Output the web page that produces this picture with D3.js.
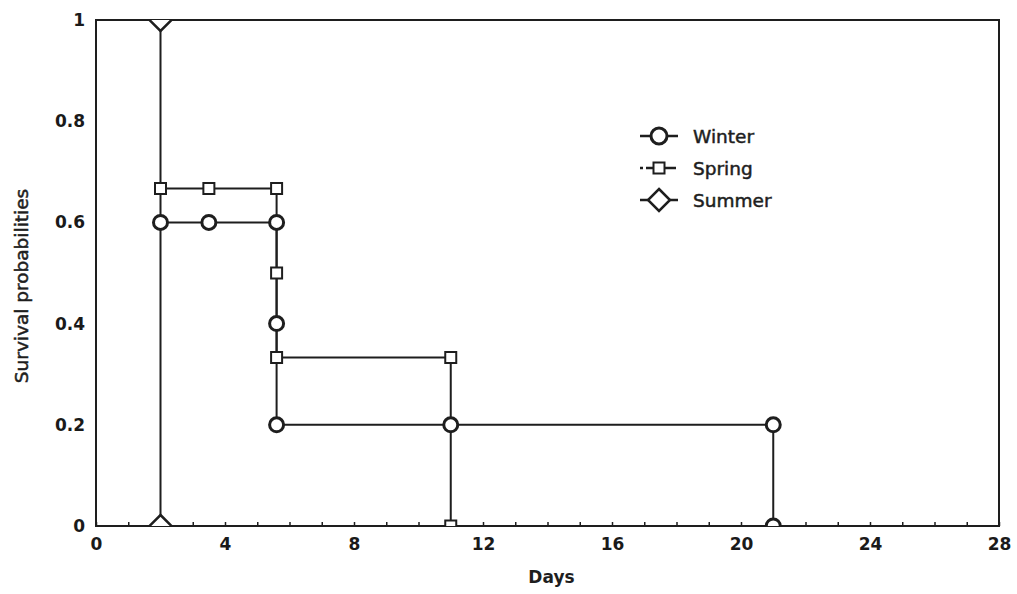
<!DOCTYPE html>
<html>
<head>
<meta charset="utf-8">
<script src="https://cdn.jsdelivr.net/npm/d3@7"></script>
<style>
  body { margin: 0; background: #fff; }
  .tick text { font-family: "DejaVu Sans", sans-serif; font-weight: bold; font-size: 17px; fill: #1a1a1a; }
</style>
</head>
<body>
<div id="chart"></div>
<script>
// Data
// ==============================
var xTicks = [0, 4, 8, 12, 16, 20, 24, 28];
var yTicks = [0, 0.2, 0.4, 0.6, 0.8, 1];

var winterDays = [2, 3.5, 5.6, 5.6, 5.6, 11, 21, 21];
var winterSurv = [0.6, 0.6, 0.6, 0.4, 0.2, 0.2, 0.2, 0];

var springDays = [2, 3.5, 5.6, 5.6, 5.6, 11, 11];
var springSurv = [0.667, 0.667, 0.667, 0.5, 0.333, 0.333, 0];

var summerDays = [2, 2];
var summerSurv = [1, 0];

var seriesNames = ["Winter", "Spring", "Summer"];
var seriesShapes = ["circle", "square", "diamond"];

// Chart area
// ==============================
var svgWidth = 1017;
var svgHeight = 594;
var margin = { top: 20, right: 18, bottom: 68, left: 96 };
var width = svgWidth - margin.left - margin.right;
var height = svgHeight - margin.top - margin.bottom;
var ink = "#1e1e1e";

var svg = d3.select("#chart")
  .append("svg")
  .attr("width", svgWidth)
  .attr("height", svgHeight);

var chartGroup = svg.append("g")
  .attr("transform", `translate(${margin.left}, ${margin.top})`);

svg.append("defs").append("clipPath")
  .attr("id", "plotClip")
  .append("rect")
  .attr("x", 0).attr("y", 0)
  .attr("width", width).attr("height", height);

// Scales and axes
// ==============================
var xScale = d3.scaleLinear().domain([0, 28]).range([0, width]);
var yScale = d3.scaleLinear().domain([0, 1]).range([height, 0]);

var xAxis = d3.axisBottom(xScale)
  .tickValues(d3.range(0, 29, 1))
  .tickSize(-4)
  .tickPadding(12)
  .tickFormat(d => xTicks.indexOf(d) >= 0 ? d : "");

var yAxis = d3.axisLeft(yScale)
  .tickValues(yTicks)
  .tickSize(0)
  .tickPadding(11)
  .tickFormat(d => String(+d.toFixed(1)));

var xAxisGroup = chartGroup.append("g")
  .attr("transform", `translate(0, ${height})`)
  .call(xAxis);
xAxisGroup.select(".domain").remove();
xAxisGroup.selectAll(".tick line").attr("stroke", ink).attr("stroke-width", 1.5);

var yAxisGroup = chartGroup.append("g").call(yAxis);
yAxisGroup.select(".domain").remove();

// Frame
chartGroup.append("rect")
  .attr("x", 0).attr("y", 0)
  .attr("width", width).attr("height", height)
  .attr("fill", "none")
  .attr("stroke", ink)
  .attr("stroke-width", 2);

// Series
// ==============================
function zipSeries(xs, ys) {
  return xs.map((d, i) => ({ x: d, y: ys[i] }));
}

var series = [
  zipSeries(winterDays, winterSurv),
  zipSeries(springDays, springSurv),
  zipSeries(summerDays, summerSurv)
];

var line = d3.line().x(d => xScale(d.x)).y(d => yScale(d.y));

function drawMarker(g, shape, cx, cy, big) {
  if (shape === "circle") {
    g.append("circle")
      .attr("cx", cx).attr("cy", cy)
      .attr("r", big ? 8 : 7)
      .attr("fill", "#fff")
      .attr("stroke", ink)
      .attr("stroke-width", 3);
  } else if (shape === "square") {
    var s = 11;
    g.append("rect")
      .attr("x", cx - s / 2).attr("y", cy - s / 2)
      .attr("width", s).attr("height", s)
      .attr("fill", "#fff")
      .attr("stroke", ink)
      .attr("stroke-width", 2);
  } else {
    var w = 11, h = 11;
    g.append("path")
      .attr("d", `M${cx},${cy - h}L${cx + w},${cy}L${cx},${cy + h}L${cx - w},${cy}Z`)
      .attr("fill", "#fff")
      .attr("stroke", ink)
      .attr("stroke-width", 2.5);
  }
}

var plotGroup = chartGroup.append("g").attr("clip-path", "url(#plotClip)");

series.forEach(function(pts) {
  plotGroup.append("path")
    .datum(pts)
    .attr("d", line)
    .attr("fill", "none")
    .attr("stroke", ink)
    .attr("stroke-width", 2);
});

series.forEach(function(pts, i) {
  pts.forEach(function(p) {
    drawMarker(plotGroup, seriesShapes[i], xScale(p.x), yScale(p.y), false);
  });
});

// Legend
// ==============================
var legend = svg.append("g").attr("transform", "translate(640, 136)");

seriesNames.forEach(function(name, i) {
  var row = legend.append("g").attr("transform", `translate(0, ${i * 32})`);
  row.append("line")
    .attr("x1", 0).attr("x2", 38)
    .attr("y1", 0).attr("y2", 0)
    .attr("stroke", ink)
    .attr("stroke-width", 2.5)
    .attr("stroke-dasharray", i === 1 ? "3,3,30" : null);
  drawMarker(row, seriesShapes[i], 19, 0, true);
  row.append("text")
    .attr("x", 53)
    .attr("y", 0)
    .attr("dy", "0.36em")
    .attr("font-family", "DejaVu Sans, sans-serif")
    .attr("font-size", "18.5px")
    .attr("fill", ink)
    .attr("stroke", ink)
    .attr("stroke-width", 0.5)
    .text(name);
});

// Axis titles
// ==============================
chartGroup.append("text")
  .attr("x", width / 2 + 4)
  .attr("y", height + 57)
  .attr("text-anchor", "middle")
  .attr("font-family", "DejaVu Sans, sans-serif")
  .attr("font-weight", "bold")
  .attr("font-size", "17px")
  .attr("fill", ink)
  .text("Days");

svg.append("text")
  .attr("transform", "translate(28, 286) rotate(-90)")
  .attr("text-anchor", "middle")
  .attr("font-family", "DejaVu Sans, sans-serif")
  .attr("font-size", "18.5px")
  .attr("fill", ink)
  .attr("stroke", ink)
  .attr("stroke-width", 0.5)
  .text("Survival probabilities");
</script>
</body>
</html>
